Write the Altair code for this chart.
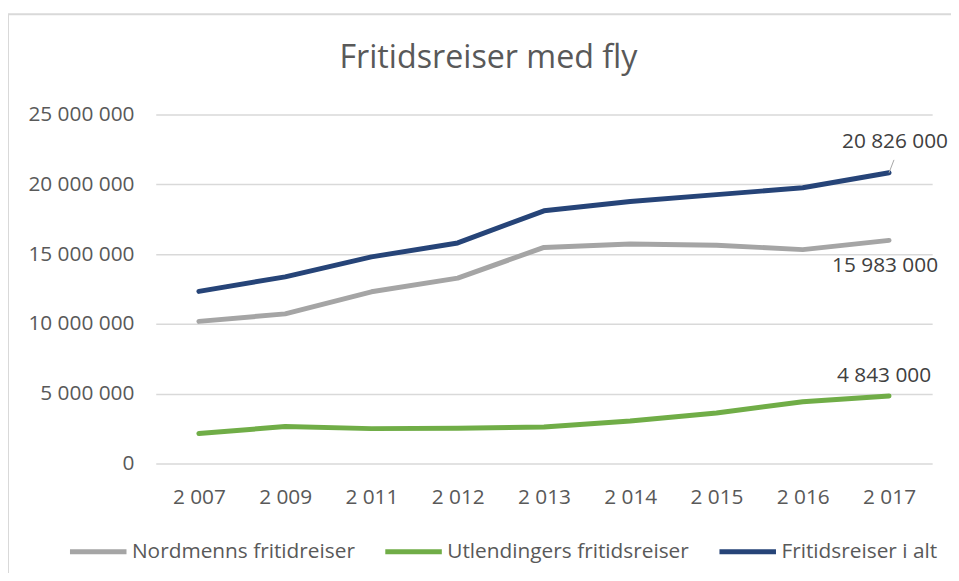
import altair as alt
import pandas as pd

years = ["2 007", "2 009", "2 011", "2 012", "2 013", "2 014", "2 015", "2 016", "2 017"]
series_names = ["Nordmenns fritidreiser", "Utlendingers fritidsreiser", "Fritidsreiser i alt"]
nordmenn = [10180000, 10720000, 12300000, 13280000, 15480000, 15720000, 15640000, 15320000, 15983000]
utlendinger = [2150000, 2650000, 2500000, 2520000, 2620000, 3050000, 3620000, 4430000, 4843000]
totalt = [12330000, 13370000, 14800000, 15800000, 18100000, 18770000, 19260000, 19750000, 20826000]
colors = ["#A5A5A5", "#70AD47", "#264478"]
y_ticks = [0, 5000000, 10000000, 15000000, 20000000, 25000000]

rows = []
for name, vals in zip(series_names, [nordmenn, utlendinger, totalt]):
    for yr, v in zip(years, vals):
        rows.append({"year": yr, "serie": name, "value": v})
df = pd.DataFrame(rows)

FONT = "Open Sans"
fmt = "replace(format(datum.value, ','), regexp(',', 'g'), ' ')"

x_enc = alt.X("year:N", sort=years, title=None,
              scale=alt.Scale(type="point", padding=0.5),
              axis=alt.Axis(domain=False, ticks=False, grid=False, labelAngle=0,
                            labelFont=FONT, labelFontSize=21, labelColor="#595959",
                            labelPadding=23))
y_enc = alt.Y("value:Q", title=None,
              scale=alt.Scale(domain=[0, 25000000], nice=False),
              axis=alt.Axis(values=y_ticks, domain=False, ticks=False, grid=True,
                            gridColor="#D9D9D9", gridWidth=1.5,
                            labelFont=FONT, labelFontSize=21, labelColor="#595959",
                            labelPadding=22, labelExpr=fmt))

base = alt.Chart(df)

border = alt.Chart(pd.DataFrame({"a": [0]})).mark_rect(
    fillOpacity=0, stroke="#D9D9D9", strokeWidth=2
).encode(x=alt.value(-149), y=alt.value(-101), x2=alt.value(900), y2=alt.value(600))

lines = base.mark_line(strokeWidth=5, strokeCap="round", strokeJoin="round").encode(
    x=x_enc, y=y_enc,
    color=alt.Color("serie:N", sort=series_names,
                    scale=alt.Scale(domain=series_names, range=colors),
                    legend=alt.Legend(title=None, orient="none", direction="horizontal",
                                      legendX=-89, legendY=410,
                                      symbolType="stroke", symbolSize=3249,
                                      symbolStrokeWidth=5, labelFont=FONT,
                                      labelFontSize=21, labelColor="#595959",
                                      labelLimit=0,
                                      labelOffset=3, columnPadding=20)),
    order=alt.Order("serie:N"),
)

def end_label(name, dx, dy):
    return base.transform_filter(
        (alt.datum.serie == name) & (alt.datum.year == years[-1])
    ).transform_calculate(lab=fmt).mark_text(
        font=FONT, fontSize=21, color="#404040", dx=dx, dy=dy, align="center", baseline="middle"
    ).encode(x=alt.X("year:N", sort=years), y="value:Q", text="lab:N")

leader = base.transform_filter(
    (alt.datum.serie == series_names[2]) & (alt.datum.year == years[-1])
).mark_rule(color="#A6A6A6", strokeWidth=1, x2Offset=5, y2Offset=-13).encode(
    x=alt.X("year:N", sort=years), x2="year:N", y="value:Q", y2="value:Q"
)

chart = alt.layer(
    border, lines, leader,
    end_label(series_names[2], 6, -31),
    end_label(series_names[0], -4, 26),
    end_label(series_names[1], -5, -20),
).properties(
    width=783, height=352,
    autosize=alt.AutoSizeParams(type="none"),
    padding={"left": 149, "top": 105, "right": 19, "bottom": 108},
    title=alt.TitleParams("Fritidsreiser med fly", font=FONT, fontSize=32.5, fontWeight="normal",
                          color="#595959", anchor="middle", dx=-56, offset=-62),
).configure_view(stroke=None)

chart.save("out.html", embed_options={"renderer": "svg", "actions": False})
